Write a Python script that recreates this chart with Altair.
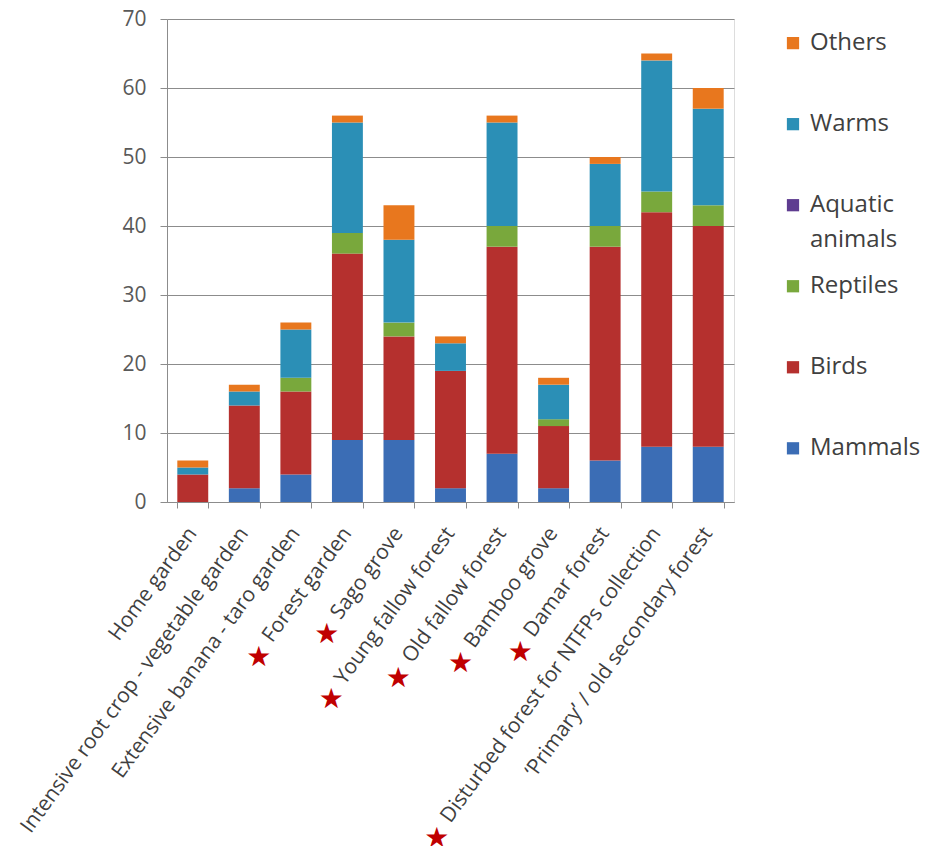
import math
import altair as alt
import pandas as pd

# ---------------- data ----------------
categories = [
    "Home garden",
    "Intensive root crop - vegetable garden",
    "Extensive banana - taro garden",
    "Forest garden",
    "Sago grove",
    "Young fallow forest",
    "Old fallow forest",
    "Bamboo grove",
    "Damar forest",
    "Disturbed forest for NTFPs collection",
    "\u2018Primary\u2019 / old secondary forest",
]
starred = [False, False, False, True, True, True, True, True, True, True, False]

series_names = ["Mammals", "Birds", "Reptiles", "Aquatic animals", "Warms", "Others"]
mammals = [0, 2, 4, 9, 9, 2, 7, 2, 6, 8, 8]
birds = [4, 12, 12, 27, 15, 17, 30, 9, 31, 34, 32]
reptiles = [0, 0, 2, 3, 2, 0, 3, 1, 3, 3, 3]
aquatic = [0, 0, 0, 0, 0, 0, 0, 0, 0, 0, 0]
warms = [1, 2, 7, 16, 12, 4, 15, 5, 9, 19, 14]
others = [1, 1, 1, 1, 5, 1, 1, 1, 1, 1, 3]
series_colors = ["#3b6db5", "#b5302e", "#79a83c", "#5e3c90", "#2b8fb6", "#e8771e"]

legend_order = ["Others", "Warms", "Aquatic animals", "Reptiles", "Birds", "Mammals"]
legend_text = ["Others", "Warms", "Aquatic\nanimals", "Reptiles", "Birds", "Mammals"]
y_ticks = [0, 10, 20, 30, 40, 50, 60, 70]

# approximate Open Sans advance widths (em), used to place the stars before the labels
OPEN_SANS_EM = {
    " ": .260, "a": .556, "b": .613, "c": .476, "d": .613, "e": .561, "f": .339, "g": .548,
    "h": .614, "i": .253, "l": .253, "m": .930, "n": .614, "o": .604, "r": .408, "s": .477,
    "t": .353, "u": .614, "v": .501, "w": .778, "y": .502, "B": .635, "D": .718, "F": .510,
    "N": .785, "O": .781, "P": .609, "S": .544, "T": .542, "Y": .527, "-": .322,
}

# ---------------- tables ----------------
rows = []
for si, (name, vals) in enumerate(zip(series_names, [mammals, birds, reptiles, aquatic, warms, others])):
    for cat, v in zip(categories, vals):
        rows.append({"category": cat, "series": name, "order": si, "value": v})
bars_df = pd.DataFrame(rows)

label_df = pd.DataFrame({"category": categories, "label": categories, "starred": starred})
leg_df = pd.DataFrame({"series": legend_order, "label": legend_text})

FONT = "Open Sans"
GRID = "#8c8c8c"
W, H = 567, 483
LABEL_SIZE = 21
LABEL_ANGLE = 54
LABEL_DROP = 28
STAR_GAP = 20

color_scale = alt.Scale(domain=series_names, range=series_colors)
x_enc = alt.X(
    "category:N", sort=categories,
    scale=alt.Scale(paddingInner=0.4, paddingOuter=0.2),
    axis=alt.Axis(labels=False, title=None, tickBand="extent", ticks=True, tickSize=6,
                  tickColor=GRID, domainColor=GRID, grid=False),
)

bars = alt.Chart(bars_df).mark_bar().encode(
    x=x_enc,
    y=alt.Y("value:Q", stack="zero", scale=alt.Scale(domain=[0, 70]),
            axis=alt.Axis(values=y_ticks, title=None, grid=True, gridColor=GRID, gridOpacity=1,
                          domainColor=GRID, tickColor=GRID, tickSize=7, labelPadding=14,
                          labelFont=FONT, labelFontSize=21, labelColor="#595959")),
    color=alt.Color("series:N", scale=color_scale, legend=None),
    order=alt.Order("order:Q"),
)

lab_base = alt.Chart(label_df).encode(
    x=alt.X("category:N", sort=categories),
    y=alt.value(H + LABEL_DROP),
)
label_layer = lab_base.mark_text(
    angle=360 - LABEL_ANGLE, align="right", baseline="middle", font=FONT,
    fontSize=LABEL_SIZE, color="#3f3f3f").encode(text="label:N")

cos_a = math.cos(math.radians(LABEL_ANGLE))
sin_a = math.sin(math.radians(LABEL_ANGLE))
star_layers = []
for cat, s in zip(categories, starred):
    if not s:
        continue
    d = sum(OPEN_SANS_EM.get(ch, 0.55) for ch in cat) * LABEL_SIZE + STAR_GAP
    star_layers.append(
        lab_base.transform_filter(alt.datum.category == cat).mark_text(
            text="\u2605", font="DejaVu Sans", fontSize=28, color="#c00000",
            align="center", baseline="middle", dx=-d * cos_a + 3, dy=d * sin_a + 2,
        )
    )

leg_y = alt.Y("series:N", sort=legend_order,
              scale=alt.Scale(type="point", padding=0.48, align=0.31), axis=None)
leg_sq = alt.Chart(leg_df).mark_square(size=150, opacity=1).encode(
    x=alt.value(W + 59), y=leg_y,
    color=alt.Color("series:N", scale=color_scale, legend=None),
)
leg_tx = alt.Chart(leg_df).mark_text(
    align="left", baseline="middle", font=FONT, fontSize=24, lineHeight=35,
    lineBreak="\n", color="#404040").encode(
    x=alt.value(W + 76), y=leg_y, text="label:N")

chart = alt.layer(bars, label_layer, *star_layers, leg_sq, leg_tx).resolve_scale(
    y="independent"
).properties(
    width=W, height=H,
    autosize=alt.AutoSizeParams(type="none"),
    padding={"left": 167, "top": 19, "right": 190, "bottom": 344},
).configure_view(stroke=None).configure(background="white")

chart.save("out.html", embed_options={"renderer": "svg", "actions": False})
